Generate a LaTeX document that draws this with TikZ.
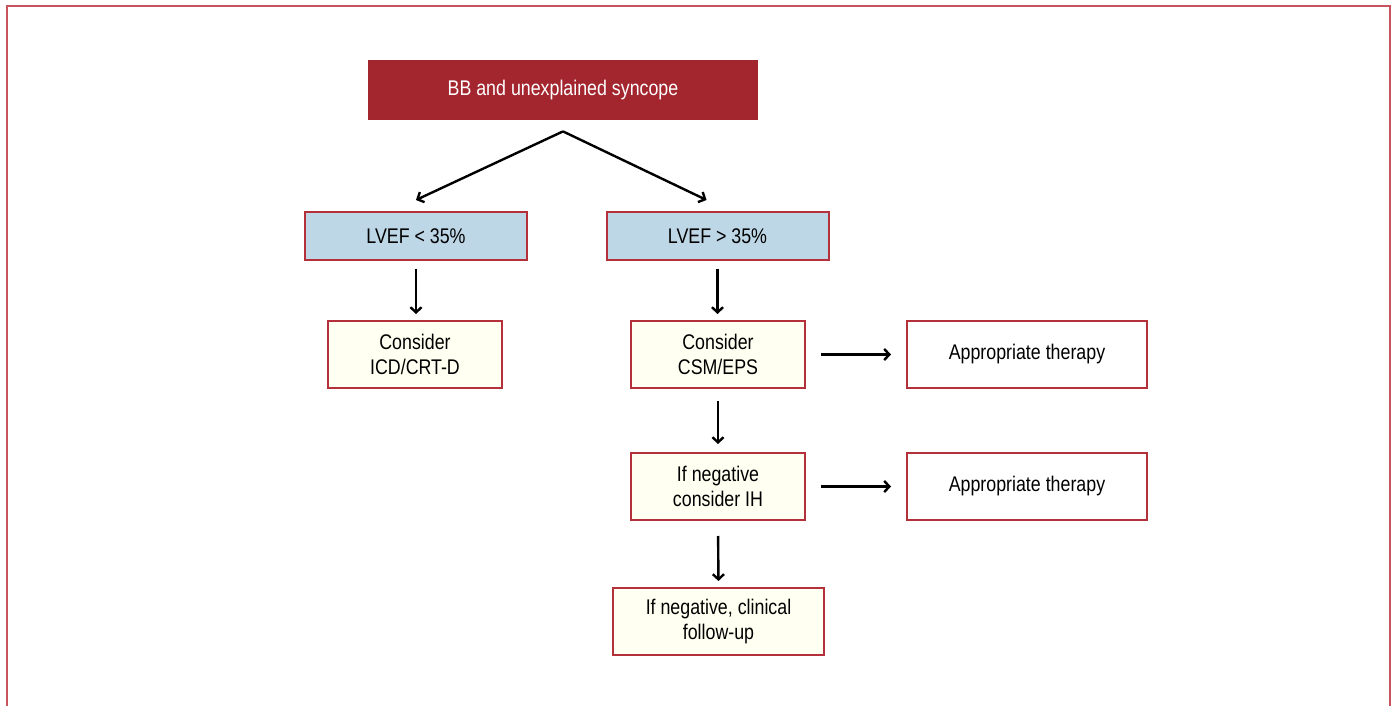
\documentclass[tikz,border=0pt]{standalone}
\usepackage{fontspec}
\setmainfont[FakeStretch=0.84]{Liberation Sans}
\usetikzlibrary{arrows.meta}
\definecolor{darkred}{HTML}{A3262F}
\definecolor{boxred}{HTML}{B4303A}
\definecolor{framered}{HTML}{C9545D}
\definecolor{paleblue}{HTML}{BED7E7}
\definecolor{ivory}{HTML}{FFFFF2}
\begin{document}
\begin{tikzpicture}[>={Straight Barb[length=2.6pt,width=5.6pt]}, x=0.5pt, y=-0.5pt, font=\fontsize{10.6}{12.5}\selectfont]
	\tikzset{
		box/.style={draw=boxred, line width=1pt, align=center, inner sep=0pt},
		headbox/.style={fill=darkred, text=white, minimum width=195pt, minimum height=30pt, inner sep=0pt},
		lvefbox/.style={box, fill=paleblue, minimum width=111pt, minimum height=24pt},
		stepbox/.style={box, fill=ivory, minimum width=87pt, minimum height=33.5pt},
		therbox/.style={box, fill=white, minimum width=120pt, minimum height=33.5pt},
		arr/.style={->, line width=1.2pt}
	}
	\useasboundingbox (0,0) rectangle (1394,706);

	% Outer frame, open at the bottom
	\draw[framered, line width=1pt] (6.5,706) -- (6.5,6.5) -- (1389.5,6.5) -- (1389.5,706);

	% Boxes
	\node[headbox] (syncope) at (563,90) {BB and unexplained syncope};
	\node[lvefbox] (lveflow) at (416,236) {LVEF < 35\%};
	\node[lvefbox] (lvefhigh) at (717.5,236) {LVEF > 35\%};
	\node[stepbox] (icd) at (415,354.5) {Consider\\ICD/CRT-D};
	\node[stepbox] (csm) at (718,354.5) {Consider\\CSM/EPS};
	\node[therbox] (therapyA) at (1027,354.5) {Appropriate therapy};
	\node[stepbox] (ih) at (718,486.5) {If negative\\consider IH};
	\node[therbox] (therapyB) at (1027,486.5) {Appropriate therapy};
	\node[stepbox, minimum width=105.5pt] (followup) at (718.5,621.5) {If negative, clinical\\follow-up};

	% Arrows
	\draw[arr] ([yshift=-5.5pt]syncope.south) -- ([yshift=5.5pt]lveflow.north);
	\draw[arr] ([yshift=-5.5pt]syncope.south) -- ([xshift=-5.5pt,yshift=5.5pt]lvefhigh.north);
	\draw[arr, shorten <=4pt, shorten >=3pt] (lveflow.south) -- (lveflow.south |- icd.north);
	\draw[arr, shorten <=4pt, shorten >=3pt] (lvefhigh.south) -- (lvefhigh.south |- csm.north);
	\draw[arr, shorten <=6pt, shorten >=4pt] (csm.south) -- (ih.north);
	\draw[arr, shorten <=7.5pt, shorten >=3pt] (ih.south) -- (followup.north);
	\draw[arr, shorten <=7.5pt, shorten >=7.5pt] (csm.east) -- (therapyA.west);
	\draw[arr, shorten <=7.5pt, shorten >=7.5pt] (ih.east) -- (therapyB.west);
\end{tikzpicture}
\end{document}
